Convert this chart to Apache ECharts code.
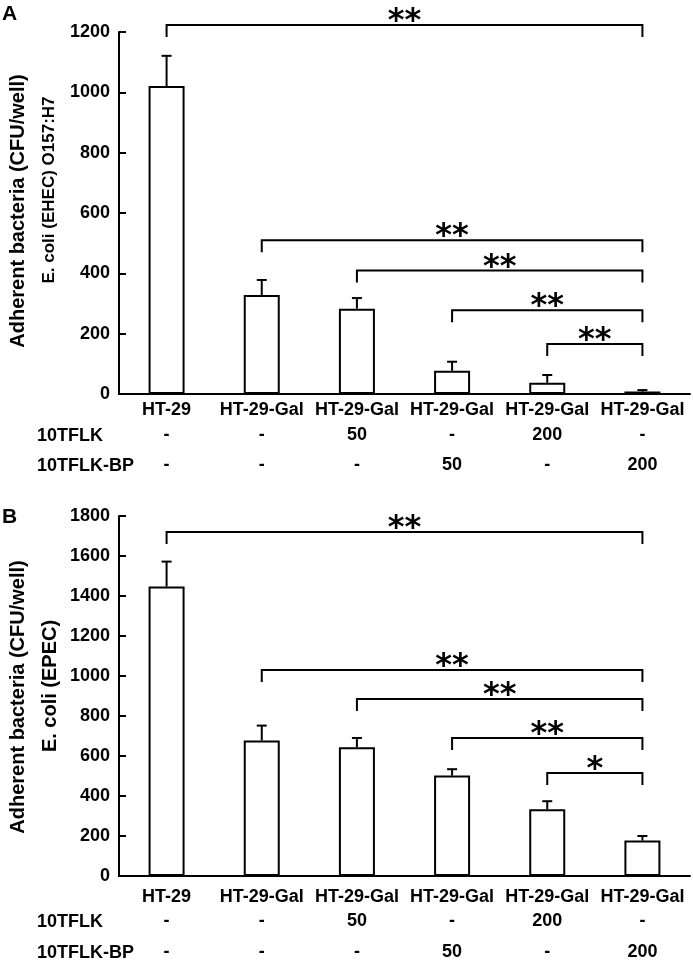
<!DOCTYPE html>
<html>
<head>
<meta charset="utf-8">
<script src="https://cdn.jsdelivr.net/npm/echarts@6/dist/echarts.min.js"></script>
<style>
html,body{margin:0;padding:0;background:#fff;}
#chart{width:693px;height:962px;}
</style>
</head>
<body>
<div id="chart"></div>
<script>
// ---- data ----
const categories = ['HT-29', 'HT-29-Gal', 'HT-29-Gal', 'HT-29-Gal', 'HT-29-Gal', 'HT-29-Gal'];
const tflkRow = ['-', '-', '50', '-', '200', '-'];
const tflkBpRow = ['-', '-', '-', '50', '-', '200'];
const rowNames = ['10TFLK', '10TFLK-BP'];

const ehecMean = [1021, 328, 283, 77, 37, 8];
const ehecErr = [100, 50, 35, 30, 26, 5];
const epecMean = [1447, 677, 644, 502, 334, 177];
const epecErr = [125, 75, 46, 32, 40, 23];

const ehecTicks = { min: 0, max: 1200, interval: 200 };
const epecTicks = { min: 0, max: 1800, interval: 200 };

const bracketFromA = [0, 1, 2, 3, 4];
const bracketToA = [5, 5, 5, 5, 5];
const bracketYA = [1223, 510, 409, 278, 166];
const bracketMarkA = ['**', '**', '**', '**', '**'];

const bracketFromB = [0, 1, 2, 3, 4];
const bracketToB = [5, 5, 5, 5, 5];
const bracketYB = [1720, 1030, 885, 690, 515];
const bracketMarkB = ['**', '**', '**', '**', '*'];

const titleA = ['Adherent bacteria (CFU/well)', 'E. coli (EHEC) O157:H7'];
const titleB = ['Adherent bacteria (CFU/well)', 'E. coli (EPEC)'];
const panelLetters = ['A', 'B'];

// ---- styling ----
const FONT = "'Liberation Sans', Arial, sans-serif";
const black = '#000';

function mainXAxis(gridIndex, margin) {
  return {
    type: 'category', gridIndex, data: categories, boundaryGap: true,
    axisLine: { lineStyle: { color: black, width: 2 } },
    axisTick: { inside: true, length: 7, lineStyle: { color: black, width: 2 } },
    axisLabel: { interval: 0, margin, color: black, fontFamily: FONT, fontWeight: 'bold', fontSize: 18 },
    splitLine: { show: false }
  };
}
function rowXAxis(gridIndex, data, offset, margin) {
  return {
    type: 'category', gridIndex, data, position: 'bottom', offset, boundaryGap: true,
    axisLine: { show: false }, axisTick: { show: false },
    axisLabel: { interval: 0, margin, color: black, fontFamily: FONT, fontWeight: 'bold', fontSize: 18 },
    splitLine: { show: false }
  };
}
function yAx(gridIndex, t) {
  return {
    type: 'value', gridIndex, min: t.min, max: t.max, interval: t.interval,
    axisLine: { show: true, lineStyle: { color: black, width: 2 } },
    axisTick: { show: true, inside: true, length: 7, lineStyle: { color: black, width: 2 } },
    axisLabel: { margin: 9, color: black, fontFamily: FONT, fontWeight: 'bold', fontSize: 18,
      formatter: v => String(v) },
    splitLine: { show: false }
  };
}

function barSeries(xi, yi, vals) {
  return {
    type: 'bar', xAxisIndex: xi, yAxisIndex: yi, data: vals, barWidth: 36,
    itemStyle: { color: '#fff', borderColor: black, borderWidth: 2 },
    silent: true, z: 2
  };
}
function errSeries(xi, yi, means, errs) {
  return {
    type: 'custom', xAxisIndex: xi, yAxisIndex: yi, clip: false, z: 3,
    data: means.map((m, i) => [i, m, errs[i]]),
    encode: { x: 0, y: 1 },
    renderItem(params, api) {
      const x = api.value(0), m = api.value(1), e = api.value(2);
      const b = api.coord([x, m]);
      const t = api.coord([x, m + e]);
      const st = { stroke: black, lineWidth: 2 };
      return {
        type: 'group', children: [
          { type: 'line', shape: { x1: b[0], y1: b[1], x2: t[0], y2: t[1] }, style: st },
          { type: 'line', shape: { x1: t[0] - 5, y1: t[1], x2: t[0] + 5, y2: t[1] }, style: st }
        ]
      };
    }
  };
}
function bracketSeries(xi, yi, from, to, ys, marks) {
  return {
    type: 'custom', xAxisIndex: xi, yAxisIndex: yi, clip: false, z: 4,
    data: ys.map((y, i) => [from[i], to[i], y]),
    encode: { x: [0, 1], y: 2 },
    renderItem(params, api) {
      const p1 = api.coord([api.value(0), api.value(2)]);
      const p2 = api.coord([api.value(1), api.value(2)]);
      const drop = 12;
      return {
        type: 'group', children: [
          { type: 'polyline', shape: { points: [[p1[0], p1[1] + drop], [p1[0], p1[1]], [p2[0], p2[1]], [p2[0], p2[1] + drop]] },
            style: { stroke: black, lineWidth: 2, fill: null } },
          { type: 'text', x: (p1[0] + p2[0]) / 2, y: p1[1] - 3,
            style: { text: marks[params.dataIndex], fill: black, fontFamily: "'DejaVu Sans', sans-serif", fontWeight: 'bold', fontSize: 32, align: 'center', verticalAlign: 'middle' } }
        ]
      };
    }
  };
}

function rotText(x, y, text, size) {
  return { type: 'text', x, y, rotation: Math.PI / 2,
    style: { text, fill: black, fontFamily: FONT, fontSize: size, fontWeight: 'bold', align: 'center', verticalAlign: 'middle' } };
}
function plainText(x, y, text, size, weight) {
  return { type: 'text', x, y,
    style: { text, fill: black, fontFamily: FONT, fontSize: size, fontWeight: weight || 'bold', align: 'left', verticalAlign: 'middle' } };
}

const chart = echarts.init(document.getElementById('chart'), null, { renderer: 'canvas' });
chart.setOption({
  backgroundColor: '#fff',
  animation: false,
  grid: [
    { left: 119, width: 571, top: 32, height: 362 },
    { left: 119, width: 571, top: 516, height: 360 }
  ],
  xAxis: [
    mainXAxis(0, 7), rowXAxis(0, tflkRow, 25, 7), rowXAxis(0, tflkBpRow, 55, 7),
    mainXAxis(1, 12), rowXAxis(1, tflkRow, 24, 12), rowXAxis(1, tflkBpRow, 55, 12)
  ],
  yAxis: [yAx(0, ehecTicks), yAx(1, epecTicks)],
  series: [
    barSeries(0, 0, ehecMean),
    errSeries(0, 0, ehecMean, ehecErr),
    bracketSeries(0, 0, bracketFromA, bracketToA, bracketYA, bracketMarkA),
    barSeries(3, 1, epecMean),
    errSeries(3, 1, epecMean, epecErr),
    bracketSeries(3, 1, bracketFromB, bracketToB, bracketYB, bracketMarkB)
  ],
  graphic: [
    plainText(2, 14, panelLetters[0], 21),
    plainText(2, 517, panelLetters[1], 21),
    rotText(18, 211, titleA[0], 20),
    rotText(49, 190, titleA[1], 17),
    rotText(18, 697, titleB[0], 20),
    rotText(50, 686, titleB[1], 20),
    plainText(37, 436, rowNames[0], 18),
    plainText(37, 466, rowNames[1], 18),
    plainText(37, 922, rowNames[0], 18),
    plainText(37, 953, rowNames[1], 18)
  ]
});
</script>
</body>
</html>
